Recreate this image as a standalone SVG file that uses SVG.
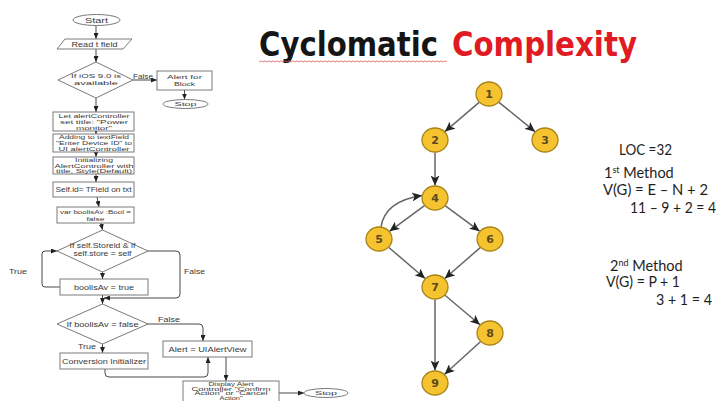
<svg xmlns="http://www.w3.org/2000/svg" width="720" height="401" viewBox="0 0 720 401">
  <defs>
    <marker id="fa" markerUnits="userSpaceOnUse" markerWidth="6" markerHeight="5" refX="6" refY="2.5" orient="auto">
      <path d="M0,0 L6,2.5 L0,5 z" fill="#222"/>
    </marker>
    <marker id="ga" markerUnits="userSpaceOnUse" markerWidth="10" markerHeight="9" refX="10" refY="4.5" orient="auto">
      <path d="M0,0 L10,4.5 L0,9 L2.5,4.5 z" fill="#222"/>
    </marker>
    <style>
      .fc { fill: #fff; stroke: #7a7a7a; stroke-width: 1; }
      .ft { font-family: "Liberation Sans", Arial, sans-serif; font-size: 7.5px; fill: #3a3a3a; text-anchor: middle; }
      .fs { font-size: 6px; }
      .fd { font-size: 5px; }
      .fl { font-family: "Liberation Sans", Arial, sans-serif; font-size: 7.5px; fill: #3a3a3a; }
      .fw { fill: none; stroke: #333; stroke-width: 0.9; }
      .node ellipse { fill: #f5c330; stroke: #a88418; stroke-width: 1.3; }
      .node text { font-family: "DejaVu Sans", sans-serif; font-size: 11px; font-weight: bold; fill: #5b4a1e; text-anchor: middle; }
      .edge { fill: none; stroke: #666; stroke-width: 1.5; marker-end: url(#ga); }
      .eq { font-family: Lato, "Open Sans", sans-serif; font-size: 14.5px; fill: #1e1e1e; }
    </style>
  </defs>

  <!-- Title -->
  <g id="title">
    <text x="259" y="56" font-family="'DejaVu Sans Condensed', 'DejaVu Sans', sans-serif" font-size="34" font-weight="bold" fill="#151515" textLength="179" lengthAdjust="spacingAndGlyphs">Cyclomatic</text>
    <text x="452" y="56" font-family="'DejaVu Sans Condensed', 'DejaVu Sans', sans-serif" font-size="34" font-weight="bold" fill="#e01b24" textLength="185" lengthAdjust="spacingAndGlyphs">Complexity</text>
    <path d="M259,62 l2,-1.2 l2,1.2 l2,-1.2 l2,1.2 l2,-1.2 l2,1.2 l2,-1.2 l2,1.2 l2,-1.2 l2,1.2 l2,-1.2 l2,1.2 l2,-1.2 l2,1.2 l2,-1.2 l2,1.2 l2,-1.2 l2,1.2 l2,-1.2 l2,1.2 l2,-1.2 l2,1.2 l2,-1.2 l2,1.2 l2,-1.2 l2,1.2 l2,-1.2 l2,1.2 l2,-1.2 l2,1.2 l2,-1.2 l2,1.2 l2,-1.2 l2,1.2 l2,-1.2 l2,1.2 l2,-1.2 l2,1.2 l2,-1.2 l2,1.2 l2,-1.2 l2,1.2 l2,-1.2 l2,1.2 l2,-1.2 l2,1.2 l2,-1.2 l2,1.2 l2,-1.2 l2,1.2 l2,-1.2 l2,1.2 l2,-1.2 l2,1.2 l2,-1.2 l2,1.2 l2,-1.2 l2,1.2 l2,-1.2 l2,1.2 l2,-1.2 l2,1.2 l2,-1.2 l2,1.2 l2,-1.2 l2,1.2 l2,-1.2 l2,1.2 l2,-1.2 l2,1.2 l2,-1.2 l2,1.2 l2,-1.2 l2,1.2 l2,-1.2 l2,1.2 l2,-1.2 l2,1.2 l2,-1.2 l2,1.2 l2,-1.2 l2,1.2 l2,-1.2 l2,1.2 l2,-1.2 l2,1.2 l2,-1.2 l2,1.2 l2,-1.2 l2,1.2 l2,-1.2 l2,1.2 l2,-1.2 l2,1.2" fill="none" stroke="#e05a5a" stroke-width="0.8"/>
  </g>

  <!-- Flowchart connectors -->
  <g id="flow-connectors">
    <path class="fw" d="M96,25.5 V39" marker-end="url(#fa)"/>
    <path class="fw" d="M96,49 V62" marker-end="url(#fa)"/>
    <path class="fw" d="M133,80 H157" marker-end="url(#fa)"/>
    <path class="fw" d="M184.5,90 V99.5" marker-end="url(#fa)"/>
    <path class="fw" d="M96,98 V112" marker-end="url(#fa)"/>
    <path class="fw" d="M96,131 V134" marker-end="url(#fa)"/>
    <path class="fw" d="M96,152 V157" marker-end="url(#fa)"/>
    <path class="fw" d="M96,174 V182" marker-end="url(#fa)"/>
    <path class="fw" d="M97,197 L99,207" marker-end="url(#fa)"/>
    <path class="fw" d="M101,223 L102.5,230" marker-end="url(#fa)"/>
    <path class="fw" d="M102.5,272 V279" marker-end="url(#fa)"/>
    <path class="fw" d="M60,287 H45 Q42,287 42,284 V254 Q42,251 45,251 H57" marker-end="url(#fa)"/>
    <path class="fw" d="M148,251 H176 Q180,251 180,255 V294 Q180,298 176,298 H104" marker-end="url(#fa)"/>
    <path class="fw" d="M102.5,295 V304" marker-end="url(#fa)"/>
    <path class="fw" d="M148,324 H199 Q203,324 203,328 V341" marker-end="url(#fa)"/>
    <path class="fw" d="M102.5,344 V353" marker-end="url(#fa)"/>
    <path class="fw" d="M105,369 V373 Q105,377 109,377 H204 Q208,377 208,373 V357" marker-end="url(#fa)"/>
    <path class="fw" d="M226,357 V381" marker-end="url(#fa)"/>
    <path class="fw" d="M279,393 H304" marker-end="url(#fa)"/>
  </g>

  <!-- Flowchart nodes -->
  <g id="fc-start">
    <ellipse class="fc" cx="96.5" cy="20" rx="23.5" ry="5.5"/>
    <text class="ft" x="96.5" y="22.7" textLength="23" lengthAdjust="spacingAndGlyphs">Start</text>
  </g>
  <g id="fc-read">
    <polygon class="fc" points="65,39 132,39 123,49 57,49"/>
    <text class="ft" x="94.5" y="46.7" textLength="46" lengthAdjust="spacingAndGlyphs">Read t field</text>
  </g>
  <g id="fc-ios">
    <polygon class="fc" points="96,62 133,80 96,98 58,80"/>
    <text class="ft fs" x="96" y="78.3" textLength="50" lengthAdjust="spacingAndGlyphs">If iOS 9.0 is</text>
    <text class="ft fs" x="96" y="85.3" textLength="44" lengthAdjust="spacingAndGlyphs">available</text>
  </g>
  <g id="fc-ios-false">
    <text class="fl" x="133" y="79" textLength="20" lengthAdjust="spacingAndGlyphs">False</text>
  </g>
  <g id="fc-alert-block">
    <rect class="fc" x="157" y="71" width="55" height="19"/>
    <text class="ft fs" x="184.5" y="78.8" textLength="35" lengthAdjust="spacingAndGlyphs">Alert for</text>
    <text class="ft fs" x="184.5" y="85.8" textLength="21" lengthAdjust="spacingAndGlyphs">Block</text>
  </g>
  <g id="fc-stop1">
    <ellipse class="fc" cx="185.5" cy="104" rx="22.5" ry="4.5"/>
    <text class="ft fs" x="185.5" y="106.2" textLength="22" lengthAdjust="spacingAndGlyphs">Stop</text>
  </g>
  <g id="fc-let">
    <rect class="fc" x="53" y="112" width="81" height="19"/>
    <text class="ft fs" x="94" y="117.6" textLength="71" lengthAdjust="spacingAndGlyphs">Let alertController</text>
    <text class="ft fs" x="94" y="123.6" textLength="68" lengthAdjust="spacingAndGlyphs">set title: "Power</text>
    <text class="ft fs" x="94" y="129.6" textLength="36" lengthAdjust="spacingAndGlyphs">monitor"</text>
  </g>
  <g id="fc-adding">
    <rect class="fc" x="53" y="134" width="81" height="18"/>
    <text class="ft fs" x="94" y="139.3" textLength="70" lengthAdjust="spacingAndGlyphs">Adding to textField</text>
    <text class="ft fs" x="94" y="145.1" textLength="76" lengthAdjust="spacingAndGlyphs">"Enter Device ID" to</text>
    <text class="ft fs" x="94" y="150.9" textLength="71" lengthAdjust="spacingAndGlyphs">UI alertController</text>
  </g>
  <g id="fc-init">
    <rect class="fc" x="53" y="157" width="81" height="17"/>
    <text class="ft fs" x="94" y="162" textLength="38" lengthAdjust="spacingAndGlyphs">Initializing</text>
    <text class="ft fs" x="94" y="167.6" textLength="79" lengthAdjust="spacingAndGlyphs">AlertController with</text>
    <text class="ft fs" x="94" y="173.2" textLength="76" lengthAdjust="spacingAndGlyphs">title, Style(Default)</text>
  </g>
  <g id="fc-selfid">
    <rect class="fc" x="53" y="182" width="81" height="15"/>
    <text class="ft" x="93.5" y="192.2" textLength="76" lengthAdjust="spacingAndGlyphs">Self.id= TField on txt</text>
  </g>
  <g id="fc-var">
    <rect class="fc" x="57" y="207" width="77" height="16"/>
    <text class="ft fs" x="95.5" y="213.6" textLength="71" lengthAdjust="spacingAndGlyphs">var boolisAv :Bool =</text>
    <text class="ft fs" x="95.5" y="220.6" textLength="18" lengthAdjust="spacingAndGlyphs">false</text>
  </g>
  <g id="fc-store">
    <polygon class="fc" points="102.5,230 148,251 102.5,272 57,251"/>
    <text class="ft" x="102.5" y="248" textLength="66" lengthAdjust="spacingAndGlyphs">If self.Storeid &amp; if</text>
    <text class="ft" x="102.5" y="256" textLength="58" lengthAdjust="spacingAndGlyphs">self.store = self</text>
  </g>
  <g id="fc-store-labels">
    <text class="fl" x="9" y="274" textLength="18" lengthAdjust="spacingAndGlyphs">True</text>
    <text class="fl" x="184" y="274" textLength="21" lengthAdjust="spacingAndGlyphs">False</text>
  </g>
  <g id="fc-true">
    <rect class="fc" x="60" y="279" width="88" height="16"/>
    <text class="ft" x="104" y="289.7" textLength="60" lengthAdjust="spacingAndGlyphs">boolisAv = true</text>
  </g>
  <g id="fc-check">
    <polygon class="fc" points="102.5,304 148,324 102.5,344 57,324"/>
    <text class="ft" x="102.5" y="326.7" textLength="72" lengthAdjust="spacingAndGlyphs">If boolisAv = false</text>
  </g>
  <g id="fc-check-labels">
    <text class="fl" x="158" y="322" textLength="22" lengthAdjust="spacingAndGlyphs">False</text>
    <text class="fl" x="78" y="349" textLength="18" lengthAdjust="spacingAndGlyphs">True</text>
  </g>
  <g id="fc-conversion">
    <rect class="fc" x="60" y="353" width="88" height="16"/>
    <text class="ft" x="104" y="363.7" textLength="84" lengthAdjust="spacingAndGlyphs">Conversion Initializer</text>
  </g>
  <g id="fc-alertview">
    <rect class="fc" x="163" y="341" width="89" height="16"/>
    <text class="ft" x="207.5" y="351.7" textLength="78" lengthAdjust="spacingAndGlyphs">Alert = UIAlertView</text>
  </g>
  <g id="fc-display">
    <rect class="fc" x="183" y="381" width="96" height="30"/>
    <text class="ft fd" x="231" y="385.8" textLength="45" lengthAdjust="spacingAndGlyphs">Display Alert</text>
    <text class="ft fd" x="231" y="390.5" textLength="79" lengthAdjust="spacingAndGlyphs">Controller "Confirm</text>
    <text class="ft fd" x="231" y="395.2" textLength="73" lengthAdjust="spacingAndGlyphs">Action" or "Cancel</text>
    <text class="ft fd" x="231" y="399.9" textLength="23" lengthAdjust="spacingAndGlyphs">Action"</text>
  </g>
  <g id="fc-stop2">
    <ellipse class="fc" cx="326" cy="393" rx="22" ry="4.5"/>
    <text class="ft fs" x="326" y="395.2" textLength="22" lengthAdjust="spacingAndGlyphs">Stop</text>
  </g>

  <!-- Control flow graph edges -->
  <g id="graph-edges">
    <line class="edge" x1="479.1" y1="102.4" x2="444.9" y2="131.6"/>
    <line class="edge" x1="499" y1="102.3" x2="535" y2="131.7"/>
    <line class="edge" x1="435" y1="152.5" x2="435" y2="185.5"/>
    <line class="edge" x1="424.5" y1="205.7" x2="389.5" y2="231.3"/>
    <path class="edge" d="M381,227 Q385,201 422,195.5"/>
    <line class="edge" x1="445.4" y1="205.8" x2="479.6" y2="231.2"/>
    <line class="edge" x1="388.9" y1="247.5" x2="425.1" y2="278.5"/>
    <line class="edge" x1="480.2" y1="247.6" x2="444.8" y2="278.5"/>
    <line class="edge" x1="445" y1="295.3" x2="480" y2="324.7"/>
    <line class="edge" x1="435" y1="299.5" x2="435" y2="370.5"/>
    <line class="edge" x1="480.4" y1="341.7" x2="444.6" y2="374.3"/>
  </g>

  <!-- Control flow graph nodes -->
  <g id="n1" class="node"><ellipse cx="489" cy="94" rx="13" ry="12"/><text x="489" y="98">1</text></g>
  <g id="n2" class="node"><ellipse cx="435" cy="140" rx="13" ry="12"/><text x="435" y="144">2</text></g>
  <g id="n3" class="node"><ellipse cx="545" cy="140" rx="13" ry="12"/><text x="545" y="144">3</text></g>
  <g id="n4" class="node"><ellipse cx="435" cy="198" rx="13" ry="12"/><text x="435" y="202">4</text></g>
  <g id="n5" class="node"><ellipse cx="379" cy="239" rx="13" ry="12"/><text x="379" y="243">5</text></g>
  <g id="n6" class="node"><ellipse cx="490" cy="239" rx="13" ry="12"/><text x="490" y="243">6</text></g>
  <g id="n7" class="node"><ellipse cx="435" cy="287" rx="13" ry="12"/><text x="435" y="291">7</text></g>
  <g id="n8" class="node"><ellipse cx="490" cy="333" rx="13" ry="12"/><text x="490" y="337">8</text></g>
  <g id="n9" class="node"><ellipse cx="435" cy="383" rx="13" ry="12"/><text x="435" y="387">9</text></g>

  <!-- Complexity calculations -->
  <g id="calc">
    <text class="eq" x="619" y="155" textLength="53" lengthAdjust="spacingAndGlyphs">LOC =32</text>
    <text class="eq" x="604" y="178">1<tspan font-size="9" dy="-5">st</tspan><tspan dy="5"> Method</tspan></text>
    <text class="eq" x="603" y="195" textLength="105" lengthAdjust="spacingAndGlyphs">V(G) = E – N + 2</text>
    <text class="eq" x="630" y="213" textLength="86" lengthAdjust="spacingAndGlyphs">11 – 9 + 2 = 4</text>
    <text class="eq" x="610" y="271">2<tspan font-size="9" dy="-5">nd</tspan><tspan dy="5"> Method</tspan></text>
    <text class="eq" x="606" y="287" textLength="74" lengthAdjust="spacingAndGlyphs">V(G) = P + 1</text>
    <text class="eq" x="656" y="305" textLength="56" lengthAdjust="spacingAndGlyphs">3 + 1 = 4</text>
  </g>
</svg>
